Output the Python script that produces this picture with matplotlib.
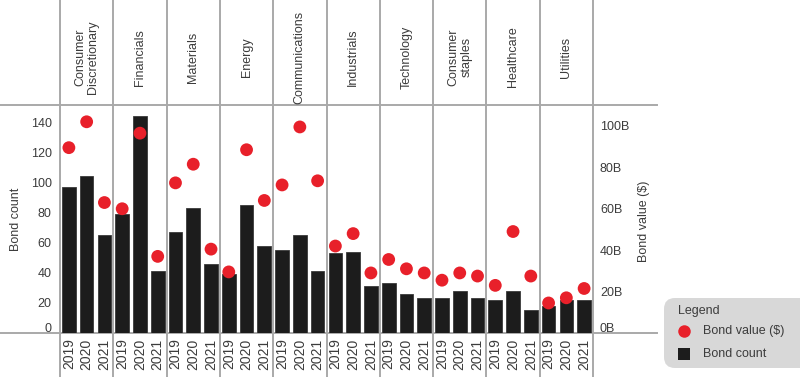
import matplotlib.pyplot as plt
from matplotlib.lines import Line2D
from matplotlib.patches import FancyBboxPatch
from matplotlib.transforms import IdentityTransform, ScaledTranslation

plt.rcParams['font.family'] = ['Liberation Sans', 'DejaVu Sans']

# sectors and years
sectors = ['Consumer\nDiscretionary', 'Financials', 'Materials', 'Energy',
           'Communications', 'Industrials', 'Technology', 'Consumer\nstaples',
           'Healthcare', 'Utilities']
years = ['2019', '2020', '2021']

# bond count per sector, 2019-2021
bond_count = [97, 104, 65,
              79, 144, 41,
              67, 83, 46,
              39, 85, 58,
              55, 65, 41,
              53, 54, 31,
              33, 26, 23,
              23, 28, 23,
              22, 28, 15,
              18, 22, 22]

# bond value in billions of dollars
bond_value = [89.5, 102, 63,
              60, 96.5, 37,
              72.5, 81.5, 40.5,
              29.5, 88.5, 64,
              71.5, 99.5, 73.5,
              42, 48, 29,
              35.5, 31, 29,
              25.5, 29, 27.5,
              23, 49, 27.5,
              14.5, 17, 21.5]

grid_col = '#a9a9a9'
text_col = '#3c3c3c'
bar_col = '#1c1c1c'
dot_col = '#e8202a'

W, H = 800, 377
fig = plt.figure(figsize=(8, 3.77), dpi=100)
ax = fig.add_axes([60 / W, (H - 333) / H, 533 / W, 228 / H])
ax2 = ax.twinx()

x = list(range(len(bond_count)))
labels = years * len(sectors)

ax.bar(x, bond_count, width=0.77, color=bar_col, edgecolor='#3a3a3a', linewidth=0.6, zorder=2)
ax2.scatter(x, bond_value, s=85, color=dot_col, edgecolors='none', zorder=3)

ax.set_xlim(-0.5, len(x) - 0.5)
ax.set_ylim(0, 151.3)
ax2.set_ylim(0, 110.1)

ax.set_yticks(range(0, 141, 20))
ax2.set_yticks(range(0, 101, 20))
ax2.set_yticklabels([f'{v}B' for v in range(0, 101, 20)])
ax.set_xticks(x)
ax.set_xticklabels(labels, rotation=90, fontsize=10, color=text_col)

ax.tick_params(axis='y', length=0, pad=6, labelsize=9, labelcolor=text_col)
ax2.tick_params(axis='y', length=0, pad=5, labelsize=9, labelcolor=text_col)
ax.tick_params(axis='x', length=0, pad=4)

# the zero labels sit a bit above the base line in the original
for a, dy in ((ax, 6), (ax2, 5)):
    lab = a.yaxis.get_major_ticks()[0]
    for t in (lab.label1, lab.label2):
        t.set_transform(t.get_transform() + ScaledTranslation(0, dy / 100, fig.dpi_scale_trans))

for a in (ax, ax2):
    for s in a.spines.values():
        s.set_visible(False)

ax.set_ylabel('Bond count', fontsize=9, color=text_col)
ax.yaxis.set_label_coords(-0.071, 0.5)
ax2.set_ylabel('Bond value ($)', fontsize=9, color=text_col, rotation=90)
ax2.yaxis.set_label_coords(1.085, 0.49)

# grid of the table-like layout
for b in range(len(sectors) + 1):
    ax.axvline(b * 3 - 0.5, ymin=-0.2, ymax=1.5, color=grid_col, lw=1.4,
               clip_on=False, zorder=1)
for yy in (0, 1):
    ax.add_line(Line2D([-0.113, 1.12], [yy, yy], transform=ax.transAxes,
                       color=grid_col, lw=1.4, clip_on=False, zorder=1))

# sector headers
for i, name in enumerate(sectors):
    ax.text(i * 3 + 1, 1.21, name, transform=ax.get_xaxis_transform(),
            rotation=90, ha='center', va='center', fontsize=9,
            color=text_col, linespacing=1.1, multialignment='center')

# legend box (pixel coordinates)
box = FancyBboxPatch((664, H - 368), 150, 70,
                     boxstyle='round,pad=0,rounding_size=11',
                     transform=IdentityTransform(), facecolor='#d8d8d8',
                     edgecolor='none')
fig.add_artist(box)
fig.text(678 / W, 1 - 311 / H, 'Legend', fontsize=9, color=text_col, va='center')
fig.add_artist(Line2D([684 / W], [1 - 331 / H], marker='o', markersize=9,
                      color=dot_col, markeredgewidth=0, transform=fig.transFigure))
fig.add_artist(Line2D([684 / W], [1 - 354 / H], marker='s', markersize=9,
                      color=bar_col, markeredgewidth=0, transform=fig.transFigure))
fig.text(703 / W, 1 - 331 / H, 'Bond value ($)', fontsize=9, color=text_col, va='center')
fig.text(703 / W, 1 - 354 / H, 'Bond count', fontsize=9, color=text_col, va='center')

fig.savefig('out.png', dpi=100)
